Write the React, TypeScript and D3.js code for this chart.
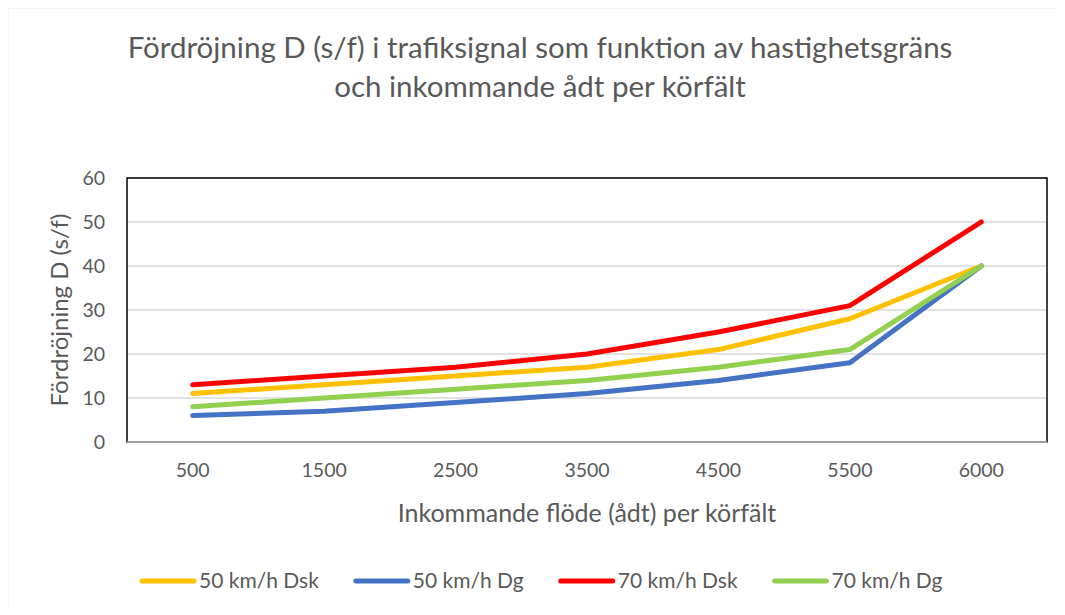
import * as d3 from 'd3';
import { useRef, useEffect } from 'react';

const categories = ['500', '1500', '2500', '3500', '4500', '5500', '6000'];
const seriesNames = ['50 km/h Dsk', '50 km/h Dg', '70 km/h Dsk', '70 km/h Dg'];
const dsk50 = [11, 13, 15, 17, 21, 28, 40];
const dg50 = [6, 7, 9, 11, 14, 18, 40];
const dsk70 = [13, 15, 17, 20, 25, 31, 50];
const dg70 = [8, 10, 12, 14, 17, 21, 40];
const yTicks = [0, 10, 20, 30, 40, 50, 60];
const colors = ['#FFC000', '#4472C4', '#FF0000', '#92D050'];

const W = 1065;
const H = 615;
const FONT = 'Lato, "Open Sans", sans-serif';
const GREY = '#595959';

const App = () => {
  const svgRef = useRef<SVGSVGElement | null>(null);

  useEffect(() => {
    const svg = d3.select(svgRef.current);
    svg.selectAll('*').remove();

    const left = 127, right = 1047, top = 178, bottom = 442;
    const x = d3.scalePoint<string>().domain(categories).range([left, right]).padding(0.5);
    const y = d3.scaleLinear().domain([0, 60]).range([bottom, top]);

    svg.append('rect').attr('width', W).attr('height', H).attr('fill', '#fff');
    // outer chart border (runs off the bottom/right)
    svg.append('rect')
      .attr('x', 7.5).attr('y', 7.5)
      .attr('width', W + 20).attr('height', H + 20)
      .attr('fill', 'none').attr('stroke', '#d9d9d9').attr('stroke-width', 1.5);

    // title
    const title = svg.append('text')
      .attr('text-anchor', 'middle')
      .attr('font-family', FONT).attr('font-size', 29.5).attr('fill', GREY);
    title.append('tspan').attr('x', 540).attr('y', 58)
      .text('Fördröjning D (s/f) i trafiksignal som funktion av hastighetsgräns');
    title.append('tspan').attr('x', 540).attr('y', 97)
      .text('och inkommande ådt per körfält');

    // gridlines
    svg.append('g').selectAll('line').data(yTicks.filter(t => t > 0)).enter().append('line')
      .attr('x1', left).attr('x2', right)
      .attr('y1', d => y(d)).attr('y2', d => y(d))
      .attr('stroke', '#d9d9d9').attr('stroke-width', 1.5);

    // plot border
    svg.append('rect')
      .attr('x', left).attr('y', top).attr('width', right - left).attr('height', bottom - top)
      .attr('fill', 'none').attr('stroke', '#000').attr('stroke-width', 1.5);
    svg.append('line')
      .attr('x1', left).attr('x2', right).attr('y1', y(0)).attr('y2', y(0))
      .attr('stroke', '#bfbfbf').attr('stroke-width', 1.5);

    // y tick labels
    svg.append('g').selectAll('text').data(yTicks).enter().append('text')
      .attr('x', 105).attr('y', d => y(d)).attr('dy', '0.35em')
      .attr('text-anchor', 'end')
      .attr('font-family', FONT).attr('font-size', 19.5).attr('fill', GREY)
      .text(d => d);

    // x tick labels
    svg.append('g').selectAll('text').data(categories).enter().append('text')
      .attr('x', d => x(d)!).attr('y', 477)
      .attr('text-anchor', 'middle')
      .attr('font-family', FONT).attr('font-size', 19.5).attr('fill', GREY)
      .text(d => d);

    // axis titles
    svg.append('text')
      .attr('x', 587).attr('y', 522).attr('text-anchor', 'middle')
      .attr('font-family', FONT).attr('font-size', 25).attr('fill', GREY)
      .text('Inkommande flöde (ådt) per körfält');
    svg.append('text')
      .attr('transform', `translate(68, ${(top + bottom) / 2}) rotate(-90)`)
      .attr('text-anchor', 'middle')
      .attr('font-family', FONT).attr('font-size', 24).attr('fill', GREY)
      .text('Fördröjning D (s/f)');

    // series
    const allSeries = [dsk50, dg50, dsk70, dg70];
    const line = d3.line<number>()
      .x((_, i) => x(categories[i])!)
      .y(d => y(d));
    allSeries.forEach((s, i) => {
      svg.append('path')
        .attr('d', line(s))
        .attr('fill', 'none').attr('stroke', colors[i])
        .attr('stroke-width', 5)
        .attr('stroke-linecap', 'round').attr('stroke-linejoin', 'round');
    });

    // legend
    const legend = svg.append('g');
    let lx = 140;
    const ly = 581;
    seriesNames.forEach((name, i) => {
      legend.append('line')
        .attr('x1', lx + 2).attr('x2', lx + 54).attr('y1', ly).attr('y2', ly)
        .attr('stroke', colors[i]).attr('stroke-width', 5).attr('stroke-linecap', 'round');
      const t = legend.append('text')
        .attr('x', lx + 59).attr('y', ly).attr('dy', '0.35em')
        .attr('font-family', FONT).attr('font-size', 21).attr('fill', GREY)
        .text(name);
      const w = (t.node() as SVGTextElement).getComputedTextLength();
      lx += 59 + w + 35;
    });
  }, []);

  return <svg ref={svgRef} width={W} height={H} style={{ display: 'block', margin: '-8px' }} />;
};

export default App;
